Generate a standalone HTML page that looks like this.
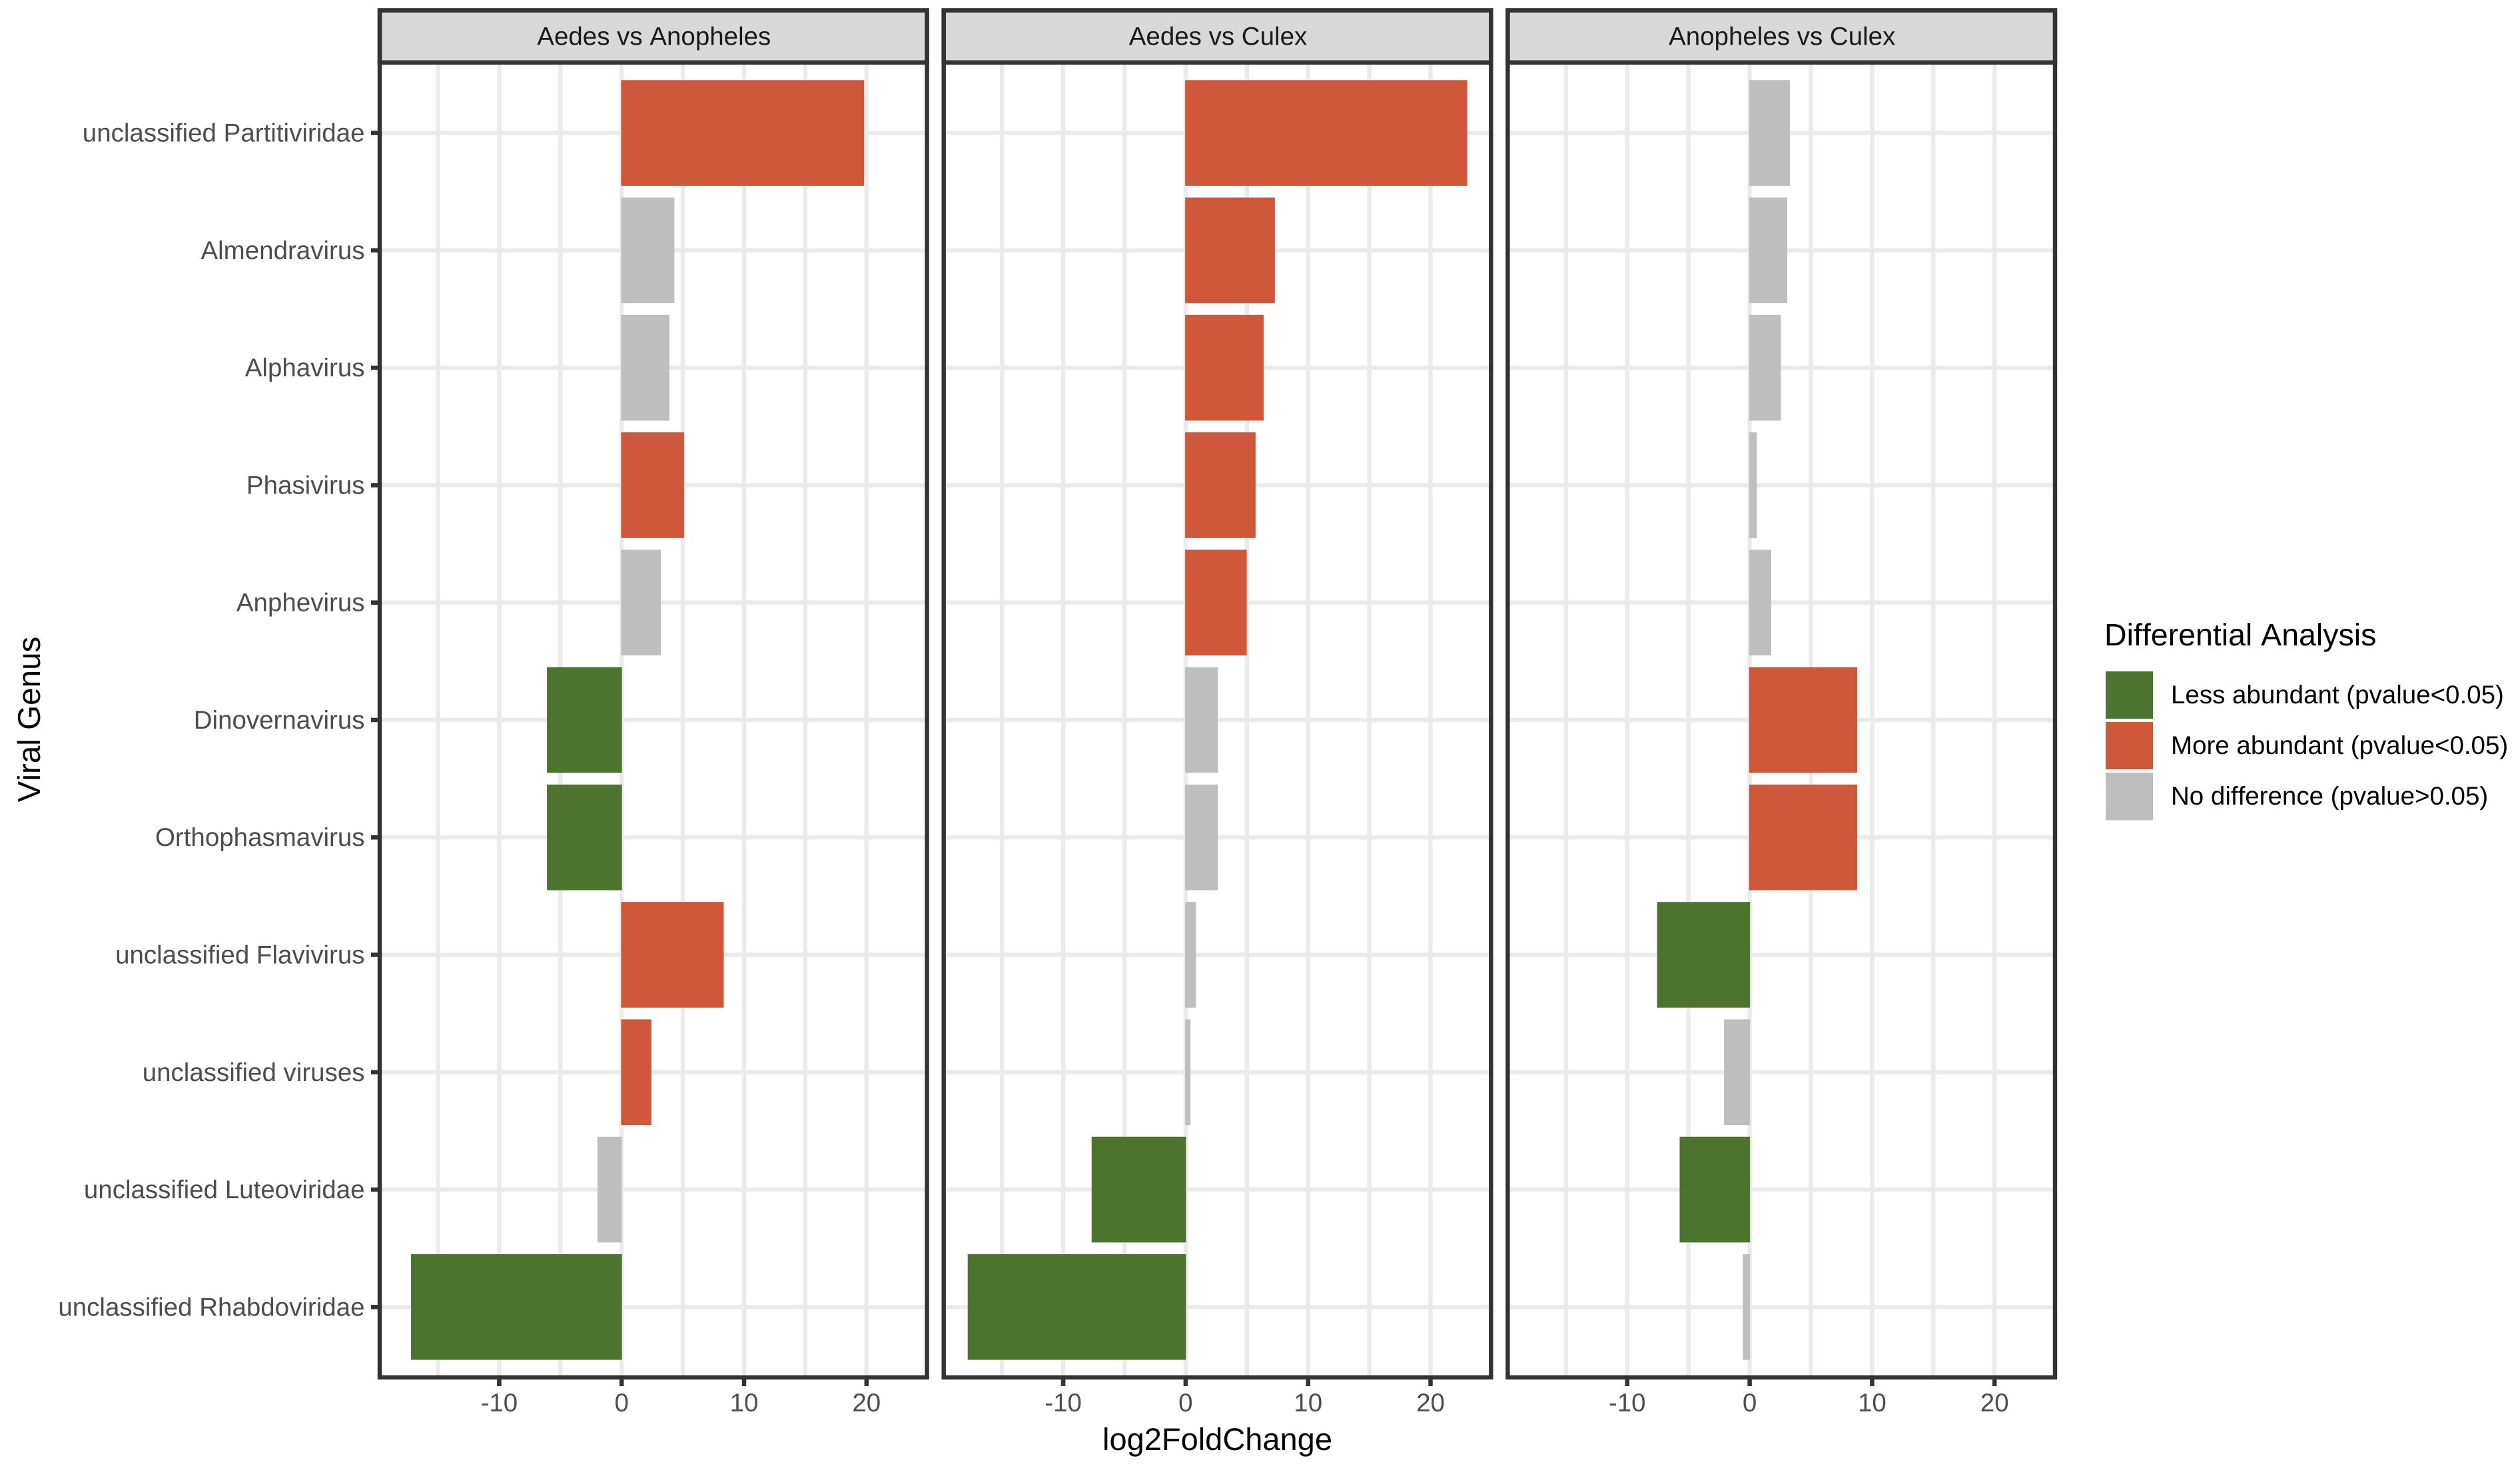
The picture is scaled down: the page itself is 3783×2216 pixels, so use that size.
<!DOCTYPE html>
<html>
<head>
<meta charset="utf-8">
<title>Viral Genus Differential Analysis</title>
<style>
html,body{margin:0;padding:0;background:#fff;width:3783px;height:2216px;overflow:hidden}
svg{display:block;font-family:"Liberation Sans",sans-serif;text-rendering:geometricPrecision;font-kerning:none}
</style>
</head>
<body>
<svg id="chart" xmlns="http://www.w3.org/2000/svg" width="3783" height="2216" viewBox="0 0 3783 2216">
  <rect x="0" y="0" width="3783" height="2216" fill="#ffffff"/>
  <g id="panels"></g>
  <text x="60" y="1080" transform="rotate(-90 60 1080)" text-anchor="middle" font-size="47.6" fill="#000">Viral Genus</text>
  <text x="1827.5" y="2177" text-anchor="middle" font-size="47" fill="#000">log2FoldChange</text>
  <g>
    <text x="3159" y="969" font-size="46.5" fill="#000">Differential Analysis</text>
    <rect x="3161" y="1008" width="71" height="71" fill="#4C742E"/>
    <text x="3259" y="1056" font-size="38.5" fill="#000">Less abundant (pvalue&lt;0.05)</text>
    <rect x="3161" y="1084" width="71" height="71" fill="#D0583A"/>
    <text x="3259" y="1132" font-size="38.5" fill="#000">More abundant (pvalue&lt;0.05)</text>
    <rect x="3161" y="1160" width="71" height="71.5" fill="#BEBEBE"/>
    <text x="3259" y="1208" font-size="38.5" fill="#000">No difference (pvalue&gt;0.05)</text>
  </g>
</svg>
<script>
const genera = ["unclassified Partitiviridae","Almendravirus","Alphavirus","Phasivirus","Anphevirus","Dinovernavirus","Orthophasmavirus","unclassified Flavivirus","unclassified viruses","unclassified Luteoviridae","unclassified Rhabdoviridae"];
const facetTitles = ["Aedes vs Anopheles","Aedes vs Culex","Anopheles vs Culex"];
const xTicks = [-10,0,10,20];
const xGridBreaks = [-15,-10,-5,0,5,10,15,20];
const aedesVsAnopheles = [19.8,4.31,3.9,5.1,3.2,-6.1,-6.1,8.34,2.43,-1.98,-17.2];
const aedesVsCulex = [23.0,7.29,6.37,5.71,4.99,2.63,2.63,0.85,0.39,-7.68,-17.8];
const anophelesVsCulex = [3.28,3.07,2.55,0.58,1.76,8.78,8.78,-7.56,-2.09,-5.72,-0.57];
const aedesVsAnophelesStatus = ["more","none","none","more","none","less","less","more","more","none","less"];
const aedesVsCulexStatus = ["more","more","more","more","more","none","none","none","none","less","less"];
const anophelesVsCulexStatus = ["none","none","none","none","none","more","more","less","none","less","none"];

const seriesValues = [aedesVsAnopheles, aedesVsCulex, anophelesVsCulex];
const seriesStatus = [aedesVsAnophelesStatus, aedesVsCulexStatus, anophelesVsCulexStatus];
const statusColor = {less:"#4C742E", more:"#D0583A", none:"#BEBEBE"};

const NS = "http://www.w3.org/2000/svg";
const root = document.getElementById("panels");
const panelW = 821.6, panelStep = 846.7, firstLeft = 570;
const top0 = 93.8, bottom0 = 2068, stripTop = 15.5;
const domainMin = -19.76, domainMax = 24.94;
const rowFirst = 199.6, rowStep = 176.27, barFrac = 0.9;

function panelLeft(p){ return firstLeft + p*panelStep; }
function xScale(p, v){ return panelLeft(p) + (v-domainMin)/(domainMax-domainMin)*panelW; }
function yScale(i){ return rowFirst + i*rowStep; }
function make(tag, attrs, parent){
  const e = document.createElementNS(NS, tag);
  for(const k in attrs) e.setAttribute(k, attrs[k]);
  parent.appendChild(e);
  return e;
}

facetTitles.forEach(function(title, p){
  const left = panelLeft(p), right = left + panelW;
  const g = make("g", {}, root);
  
  

  genera.forEach(function(name, i){
    const l = make("line", {x1:left, x2:right, y1:yScale(i), y2:yScale(i), stroke:"#EBEBEB", "stroke-width":6.5}, g);
    
    
  });
  xGridBreaks.forEach(function(v){
    const l = make("line", {x1:xScale(p,v), x2:xScale(p,v), y1:top0, y2:bottom0, stroke:"#EBEBEB", "stroke-width":6.5}, g);
    
    
  });

  seriesValues[p].forEach(function(v, i){
    const x0 = xScale(p, Math.min(0, v)) - (v > 0 ? 0.8 : 0);
    const x1 = xScale(p, Math.max(0, v)) + (v < 0 ? 0.5 : 0);
    const h = rowStep*barFrac;
    const r = make("rect", {x:x0, y:yScale(i)-h/2, width:x1-x0, height:h, fill:statusColor[seriesStatus[p][i]]}, g);
    
    
  });

  const border = make("rect", {x:left, y:top0, width:panelW, height:bottom0-top0, fill:"none", stroke:"#333333", "stroke-width":6.4}, g);
  
  

  const strip = make("rect", {x:left, y:stripTop, width:panelW, height:top0-stripTop, fill:"#D9D9D9", stroke:"#333333", "stroke-width":6.6}, g);
  
  

  const st = make("text", {x:left+panelW/2+1, y:67.5, "text-anchor":"middle", "font-size":38.5, fill:"#1A1A1A"}, g);
  st.textContent = title;
  
  

  xTicks.forEach(function(v){
    const x = xScale(p, v);
    const t = make("line", {x1:x, x2:x, y1:bottom0, y2:2081, stroke:"#333333", "stroke-width":6.5}, g);
    
    
    const lab = make("text", {x:x, y:2119, "text-anchor":"middle", "font-size":38.5, fill:"#4D4D4D"}, g);
    lab.textContent = String(v);
    
    
  });

  if(p === 0){
    genera.forEach(function(name, i){
      const y = yScale(i);
      const t = make("line", {x1:557, x2:left, y1:y, y2:y, stroke:"#333333", "stroke-width":6.5}, g);
      
      
      const lab = make("text", {x:547.5, y:y+13, "text-anchor":"end", "font-size":38.5, fill:"#4D4D4D"}, g);
      lab.textContent = name;
      
      
    });
  }
});
</script>
</body>
</html>
